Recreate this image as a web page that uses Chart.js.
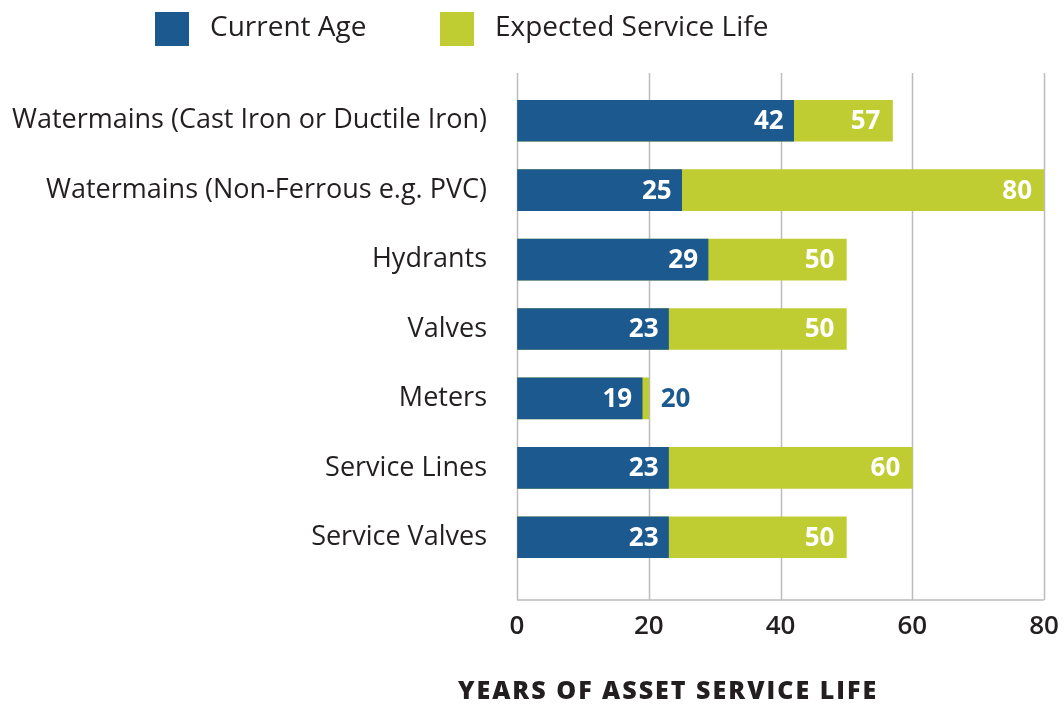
<!DOCTYPE html>
<html>
<head>
<meta charset="utf-8">
<script src="https://cdn.jsdelivr.net/npm/chart.js@4.4.1/dist/chart.umd.min.js"></script>
<style>
  html, body { margin: 0; padding: 0; background: #fff; }
  #wrap { width: 1064px; height: 704px; position: relative; }
</style>
</head>
<body>
<div id="wrap"><canvas id="assetChart"></canvas></div>
<script>
const categories = [
    'Watermains (Cast Iron or Ductile Iron)',
    'Watermains (Non-Ferrous e.g. PVC)',
    'Hydrants',
    'Valves',
    'Meters',
    'Service Lines',
    'Service Valves'
];
const currentAge = [42, 25, 29, 23, 19, 23, 23];
const serviceLife = [57, 80, 50, 50, 20, 60, 50];
const xTicks = [0, 20, 40, 60, 80];
const seriesNames = ['Current Age', 'Expected Service Life'];
const axisTitle = 'YEARS OF ASSET SERVICE LIFE';

const BLUE = '#1c598e';
const GREEN = '#bfcd32';
const INK = '#231f20';
const GRID = '#bcbcbc';
const FONT = '"Open Sans", Lato, sans-serif';

// grid lines run a bit past the category band, like the original
const gridLines = {
    id: 'gridLines',
    beforeDatasetsDraw(chart) {
        const {ctx, chartArea, scales} = chart;
        const top = chartArea.top - 13;
        const bottom = chartArea.bottom + 28;
        ctx.save();
        ctx.strokeStyle = GRID;
        ctx.lineWidth = 1.5;
        ctx.beginPath();
        xTicks.forEach(v => {
            const x = Math.round(scales.x.getPixelForValue(v)) + 0.5;
            ctx.moveTo(x, top);
            ctx.lineTo(x, bottom);
        });
        ctx.moveTo(scales.x.getPixelForValue(0), bottom);
        ctx.lineTo(scales.x.getPixelForValue(80), bottom);
        ctx.stroke();
        ctx.restore();
    }
};

const valueLabels = {
    id: 'valueLabels',
    afterDatasetsDraw(chart) {
        const {ctx} = chart;
        const ageBars = chart.getDatasetMeta(0).data;
        const lifeBars = chart.getDatasetMeta(1).data;
        ctx.save();
        ctx.font = 'bold 26px ' + FONT;
        ctx.textBaseline = 'middle';
        ageBars.forEach((bar, i) => {
            ctx.fillStyle = '#fff';
            ctx.textAlign = 'right';
            ctx.fillText(String(currentAge[i]), bar.x - 10, bar.y + 1);
            const life = lifeBars[i];
            const txt = String(serviceLife[i]);
            const w = ctx.measureText(txt).width;
            if (life.x - bar.x > w + 20) {
                ctx.fillText(txt, life.x - 12, life.y + 1);
            } else {
                ctx.fillStyle = BLUE;
                ctx.textAlign = 'left';
                ctx.fillText(txt, life.x + 12, life.y + 1);
            }
        });
        ctx.restore();
    }
};

const legendAndTitle = {
    id: 'legendAndTitle',
    afterDraw(chart) {
        const {ctx} = chart;
        ctx.save();
        ctx.textBaseline = 'middle';
        ctx.textAlign = 'left';
        ctx.font = '28px ' + FONT;
        const starts = [155, 440];
        chart.data.datasets.forEach((ds, i) => {
            ctx.fillStyle = ds.backgroundColor;
            ctx.fillRect(starts[i], 12, 34, 34);
            ctx.fillStyle = INK;
            ctx.fillText(ds.label, starts[i] + 55, 28);
        });
        ctx.font = '800 25px ' + FONT;
        ctx.letterSpacing = '2px';
        ctx.textAlign = 'center';
        ctx.fillText(axisTitle, 668, 692);
        ctx.restore();
    }
};

new Chart(document.getElementById('assetChart'), {
    type: 'bar',
    data: {
        labels: categories,
        datasets: [
            {
                label: seriesNames[0],
                data: currentAge,
                backgroundColor: BLUE,
                barThickness: 41,
                grouped: false
            },
            {
                label: seriesNames[1],
                data: serviceLife,
                backgroundColor: GREEN,
                barThickness: 41,
                grouped: false
            }
        ]
    },
    options: {
        indexAxis: 'y',
        responsive: true,
        maintainAspectRatio: false,
        animation: false,
        layout: {
            padding: {top: 86, right: 20, bottom: 61, left: 0}
        },
        plugins: {
            legend: {display: false},
            tooltip: {enabled: false}
        },
        scales: {
            x: {
                min: 0,
                max: 80,
                afterBuildTicks: scale => {
                    scale.ticks = xTicks.map(v => ({value: v}));
                },
                afterFit: scale => {
                    scale.height = 71;
                },
                grid: {
                    color: 'rgba(0,0,0,0)',
                    drawOnChartArea: false,
                    drawTicks: true,
                    tickLength: 38
                },
                border: {display: false},
                ticks: {
                    padding: 1,
                    color: INK,
                    font: {family: FONT, size: 26, weight: '600'}
                }
            },
            y: {
                afterFit: scale => {
                    scale.width = 517;
                },
                grid: {display: false, drawTicks: false},
                border: {display: false},
                ticks: {
                    padding: 30,
                    color: INK,
                    font: {family: FONT, size: 27}
                }
            }
        }
    },
    plugins: [gridLines, valueLabels, legendAndTitle]
});
</script>
</body>
</html>
